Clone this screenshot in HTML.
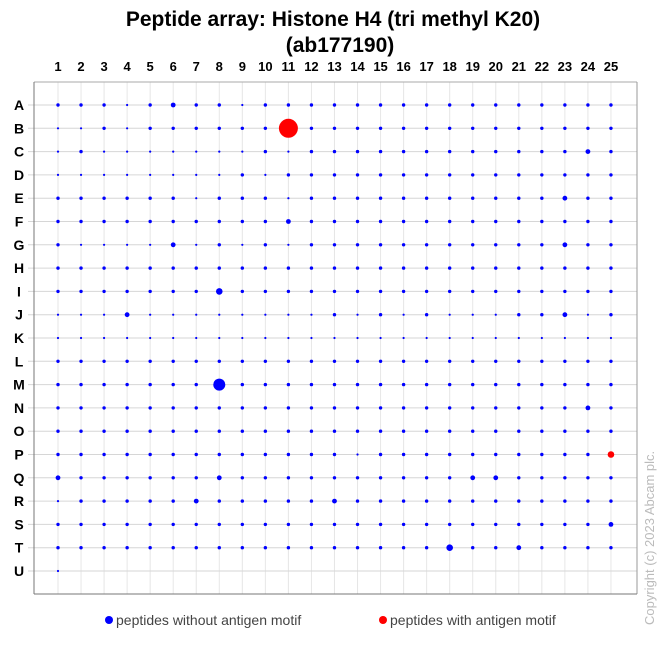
<!DOCTYPE html>
<html><head><meta charset="utf-8"><style>
body{margin:0;background:#fff;width:666px;height:640px;overflow:hidden;font-family:"Liberation Sans",Arial,sans-serif}
</style></head><body>
<svg width="666" height="640" id="chart">
<text x="333" y="26" text-anchor="middle" font-size="21" font-weight="bold">Peptide array:  Histone H4 (tri methyl K20)</text>
<text x="340" y="52" text-anchor="middle" font-size="21" font-weight="bold">(ab177190)</text>
<g id="grid"></g><g id="labels"></g><g id="dots"></g>
<line x1="34" y1="82" x2="637" y2="82" stroke="#aaa"/>
<line x1="637" y1="82" x2="637" y2="594" stroke="#999"/>
<line x1="34" y1="82" x2="34" y2="594" stroke="#777"/>
<line x1="34" y1="594" x2="637" y2="594" stroke="#777"/>
<circle cx="109" cy="620" r="4" fill="#0000ff"/>
<text x="116" y="625" font-size="14" fill="#444">peptides without antigen motif</text>
<circle cx="383" cy="620" r="4" fill="#ff0000"/>
<text x="390" y="625" font-size="14" fill="#444">peptides with antigen motif</text>
<text transform="translate(654,625) rotate(-90)" font-size="13" fill="#bbb">Copyright (c) 2023 Abcam plc.</text>
</svg>
<script>
const rows = ["A","B","C","D","E","F","G","H","I","J","K","L","M","N","O","P","Q","R","S","T","U"];
const cols = [1,2,3,4,5,6,7,8,9,10,11,12,13,14,15,16,17,18,19,20,21,22,23,24,25];
// signal levels per spot (0 = no spot)
const values = [
"2221232212222222222222222",
"1121222222922222222222222",
"1211111112122222222222232",
"1111111121222222222222222",
"2222221222122222222222322",
"2222222222322222222222222",
"2111131212122222222222322",
"2222222222222222222222222",
"2222222422222222222222222",
"1113111111112121211122312",
"1111111111111111111111111",
"2222222222222222222222222",
"2222222622222222222222222",
"2222222222222222222222232",
"2222222222222222222222222",
"2222222222222122222222224",
"3222222322222222223322222",
"1222223222223222222222222",
"2222222222222222222222223",
"2222222222222222242232222",
"1000000000000000000000000"];
// spots carrying the antigen motif
const motif = ["B11","P25"];
const radius = [0,1.1,1.7,2.4,3.3,4,6,7,8,9.5];
const NS="http://www.w3.org/2000/svg";
const x = c => 58 + (c-1)*23.04;
const y = r => 105 + r*23.3;
const grid=document.getElementById('grid'),labels=document.getElementById('labels'),dots=document.getElementById('dots');
cols.forEach(c=>{
  const l=document.createElementNS(NS,'line');
  l.setAttribute('x1',x(c));l.setAttribute('x2',x(c));l.setAttribute('y1',82);l.setAttribute('y2',594);
  l.setAttribute('stroke','#e6e6e6');
  
  
  grid.appendChild(l);
  const t=document.createElementNS(NS,'text');
  t.setAttribute('x',x(c));t.setAttribute('y',71);t.setAttribute('text-anchor','middle');
  t.setAttribute('font-size','13');t.setAttribute('font-weight','bold');t.textContent=c;
  
  
  labels.appendChild(t);
});
rows.forEach((r,i)=>{
  const l=document.createElementNS(NS,'line');
  l.setAttribute('x1',28);l.setAttribute('x2',637);l.setAttribute('y1',y(i));l.setAttribute('y2',y(i));
  l.setAttribute('stroke','#d6d6d6');
  
  
  grid.appendChild(l);
  const t=document.createElementNS(NS,'text');
  t.setAttribute('x',19);t.setAttribute('y',y(i)+5);t.setAttribute('text-anchor','middle');
  t.setAttribute('font-size','14');t.setAttribute('font-weight','bold');t.textContent=r;
  
  
  labels.appendChild(t);
  cols.forEach((c,j)=>{
    const v=+values[i][j]; if(!v) return;
    const id=r+c;
    const d=document.createElementNS(NS,'circle');
    d.setAttribute('cx',x(c));d.setAttribute('cy',y(i));d.setAttribute('r',radius[v]);
    d.setAttribute('fill',motif.includes(id)?'#ff0000':'#0000ff');
    
    
    dots.appendChild(d);
  });
});
</script>
</body></html>
